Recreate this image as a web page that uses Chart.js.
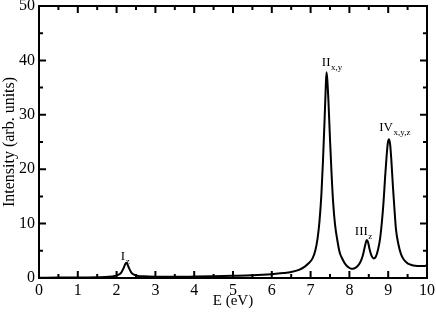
<!DOCTYPE html>
<html>
<head>
<meta charset="utf-8">
<script src="https://cdn.jsdelivr.net/npm/chart.js@4/dist/chart.umd.min.js"></script>
<style>
  html, body { margin: 0; padding: 0; background: #fff; }
  #wrap { width: 436px; height: 312px; }
</style>
</head>
<body>
<div id="wrap"><canvas id="spectrum" width="436" height="312"></canvas></div>
<script>
// Photon energy (eV) and intensity
const energy = [0, 0.5, 1.0, 1.5, 1.8, 1.95, 2.05, 2.12, 2.18, 2.22, 2.25, 2.28, 2.32, 2.38, 2.45, 2.55, 2.7,
    3.0, 3.5, 4.0, 4.5, 5.0, 5.5, 6.0, 6.3, 6.5, 6.7, 6.85, 6.95, 7.05, 7.12, 7.18, 7.23, 7.28, 7.32, 7.36,
    7.39, 7.41, 7.43, 7.46, 7.5, 7.54, 7.58, 7.63, 7.69, 7.75, 7.82, 7.9, 7.98, 8.05, 8.12, 8.2, 8.28, 8.34,
    8.39, 8.43, 8.45, 8.48, 8.52, 8.57, 8.62, 8.68, 8.74, 8.79, 8.84, 8.88, 8.92, 8.96, 8.99, 9.02, 9.05,
    9.08, 9.12, 9.16, 9.2, 9.26, 9.33, 9.4, 9.5, 9.6, 9.7, 9.8, 9.9, 10.0];
const intensity = [0.05, 0.07, 0.1, 0.14, 0.22, 0.37, 0.6, 1.0, 1.8, 2.54, 2.8, 2.54, 1.8, 1.0, 0.6, 0.37, 0.3,
    0.24, 0.22, 0.26, 0.32, 0.4, 0.5, 0.7, 0.9, 1.1, 1.5, 2.1, 2.7, 3.6, 5.0, 7.3, 10.5, 15.6, 21.7, 29.0,
    35.0, 37.8, 36.5, 32.5, 25.5, 19.2, 14.0, 9.8, 6.9, 4.7, 3.5, 2.5, 1.95, 1.7, 1.75, 2.1, 2.9, 4.0,
    5.5, 6.7, 7.0, 6.6, 5.3, 4.1, 3.6, 3.9, 5.3, 7.2, 10.5, 14.0, 18.5, 22.5, 24.8, 25.5, 24.5,
    21.8, 17.0, 12.8, 9.0, 6.3, 4.4, 3.4, 2.7, 2.4, 2.25, 2.2, 2.2, 2.3];

const xTicks = [0, 1, 2, 3, 4, 5, 6, 7, 8, 9, 10];
const yTicks = [0, 10, 20, 30, 40, 50];

// peak labels: main text, subscript, anchor (E, intensity) of the baseline start
const peakNames = ['I', 'II', 'III', 'IV'];
const peakSubs = ['z', 'x,y', 'z', 'x,y,z'];
const peakE = [2.11, 7.29, 8.14, 8.77];
const peakI = [3.4, 39.0, 7.9, 27.1];

const serif = '"Liberation Serif", "DejaVu Serif", serif';
Chart.defaults.font.family = serif;
Chart.defaults.color = '#000';

const frame = {
    id: 'frame',
    afterDraw(chart) {
        const {ctx, chartArea: a, scales: {x, y}} = chart;
        ctx.save();
        ctx.strokeStyle = '#000';
        ctx.lineWidth = 2;
        ctx.strokeRect(a.left, a.top, a.right - a.left, a.bottom - a.top);
        ctx.beginPath();
        xTicks.forEach((v, i) => {
            const px = x.getPixelForValue(v);
            ctx.moveTo(px, a.bottom); ctx.lineTo(px, a.bottom - 7);
            ctx.moveTo(px, a.top); ctx.lineTo(px, a.top + 7);
            if (i < xTicks.length - 1) {
                const mx = x.getPixelForValue((v + xTicks[i + 1]) / 2);
                ctx.moveTo(mx, a.bottom); ctx.lineTo(mx, a.bottom - 4);
                ctx.moveTo(mx, a.top); ctx.lineTo(mx, a.top + 4);
            }
        });
        yTicks.forEach((v, i) => {
            const py = y.getPixelForValue(v);
            ctx.moveTo(a.left, py); ctx.lineTo(a.left + 7, py);
            ctx.moveTo(a.right, py); ctx.lineTo(a.right - 7, py);
            if (i < yTicks.length - 1) {
                const my = y.getPixelForValue((v + yTicks[i + 1]) / 2);
                ctx.moveTo(a.left, my); ctx.lineTo(a.left + 4, my);
                ctx.moveTo(a.right, my); ctx.lineTo(a.right - 4, my);
            }
        });
        ctx.stroke();

        // peak labels
        ctx.fillStyle = '#000';
        ctx.textBaseline = 'alphabetic';
        ctx.textAlign = 'left';
        peakNames.forEach((name, i) => {
            const px = x.getPixelForValue(peakE[i]);
            const py = y.getPixelForValue(peakI[i]);
            ctx.font = '13px ' + serif;
            ctx.fillText(name, px, py);
            const w = ctx.measureText(name).width;
            ctx.font = '9px ' + serif;
            ctx.fillText(peakSubs[i], px + w + 0.5, py + 4);
        });
        ctx.restore();
    }
};

new Chart(document.getElementById('spectrum'), {
    type: 'line',
    data: {
        datasets: [{
            data: energy.map((e, i) => ({x: e, y: intensity[i]})),
            borderColor: '#000',
            borderWidth: 2,
            pointRadius: 0,
            cubicInterpolationMode: 'monotone',
            fill: false
        }]
    },
    options: {
        responsive: false,
        animation: false,
        layout: { padding: { top: 6, right: 9, left: 0, bottom: 0 } },
        plugins: { legend: { display: false }, tooltip: { enabled: false } },
        scales: {
            x: {
                type: 'linear',
                min: 0, max: 10,
                afterBuildTicks: s => { s.ticks = xTicks.map(v => ({value: v})); },
                afterFit: s => { s.height = 34; s.paddingLeft = 0; s.paddingRight = 0; },
                grid: { display: false, drawTicks: false },
                border: { display: false },
                ticks: { padding: 3, font: { size: 16 }, maxRotation: 0 },
                title: { display: true, text: 'E (eV)', font: { size: 15 }, padding: { top: 0, bottom: 2 } }
            },
            y: {
                min: 0, max: 50,
                afterBuildTicks: s => { s.ticks = yTicks.map(v => ({value: v})); },
                afterFit: s => { s.width = 39; s.paddingTop = 0; s.paddingBottom = 0; },
                grid: { display: false, drawTicks: false },
                border: { display: false },
                ticks: { padding: 4, font: { size: 16 } },
                title: { display: true, text: 'Intensity (arb. units)', font: { size: 16 }, padding: { top: 0, bottom: 0 } }
            }
        }
    },
    plugins: [frame]
});
</script>
</body>
</html>
